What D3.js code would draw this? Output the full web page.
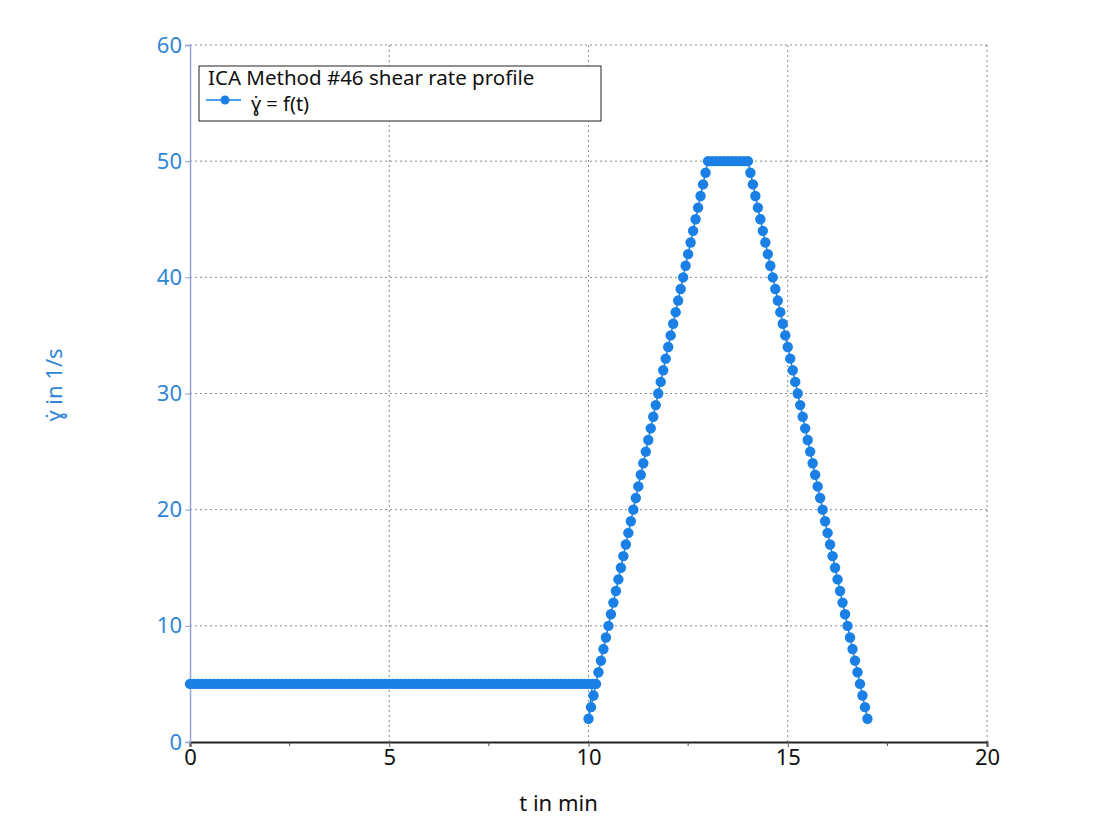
<!DOCTYPE html>
<html>
<head>
<meta charset="utf-8">
<script src="https://cdn.jsdelivr.net/npm/d3@7"></script>
<style>
  body { margin: 0; background: #fff; }
  text { font-family: "Noto Sans", "Open Sans", sans-serif; }
</style>
</head>
<body>
<script>
// hold at 5 1/s for 10 min
var lowT = [0,0.1,0.2,0.3,0.4,0.5,0.6,0.7,0.8,0.9,1,1.1,1.2,1.3,1.4,1.5,1.6,1.7,1.8,1.9,
  2,2.1,2.2,2.3,2.4,2.5,2.6,2.7,2.8,2.9,3,3.1,3.2,3.3,3.4,3.5,3.6,3.7,3.8,3.9,
  4,4.1,4.2,4.3,4.4,4.5,4.6,4.7,4.8,4.9,5,5.1,5.2,5.3,5.4,5.5,5.6,5.7,5.8,5.9,
  6,6.1,6.2,6.3,6.4,6.5,6.6,6.7,6.8,6.9,7,7.1,7.2,7.3,7.4,7.5,7.6,7.7,7.8,7.9,
  8,8.1,8.2,8.3,8.4,8.5,8.6,8.7,8.8,8.9,9,9.1,9.2,9.3,9.4,9.5,9.6,9.7,9.8,9.9,10,10.1]
var lowV = [5,5,5,5,5,5,5,5,5,5,5,5,5,5,5,5,5,5,5,5,
  5,5,5,5,5,5,5,5,5,5,5,5,5,5,5,5,5,5,5,5,
  5,5,5,5,5,5,5,5,5,5,5,5,5,5,5,5,5,5,5,5,
  5,5,5,5,5,5,5,5,5,5,5,5,5,5,5,5,5,5,5,5,
  5,5,5,5,5,5,5,5,5,5,5,5,5,5,5,5,5,5,5,5,5,5]

// ramp up 2 -> 50
var upT = [10,10.0625,10.125,10.1875,10.25,10.3125,10.375,10.4375,10.5,10.5625,10.625,10.6875,
  10.75,10.8125,10.875,10.9375,11,11.0625,11.125,11.1875,11.25,11.3125,11.375,11.4375,
  11.5,11.5625,11.625,11.6875,11.75,11.8125,11.875,11.9375,12,12.0625,12.125,12.1875,
  12.25,12.3125,12.375,12.4375,12.5,12.5625,12.625,12.6875,12.75,12.8125,12.875,12.9375,13]
var upV = [2,3,4,5,6,7,8,9,10,11,12,13,14,15,16,17,18,19,20,21,22,23,24,25,
  26,27,28,29,30,31,32,33,34,35,36,37,38,39,40,41,42,43,44,45,46,47,48,49,50]

// hold at 50
var topT = [13.1,13.2,13.3,13.4,13.5,13.6,13.7,13.8,13.9]
var topV = [50,50,50,50,50,50,50,50,50]

// ramp down 50 -> 2
var downT = [14,14.0625,14.125,14.1875,14.25,14.3125,14.375,14.4375,14.5,14.5625,14.625,14.6875,
  14.75,14.8125,14.875,14.9375,15,15.0625,15.125,15.1875,15.25,15.3125,15.375,15.4375,
  15.5,15.5625,15.625,15.6875,15.75,15.8125,15.875,15.9375,16,16.0625,16.125,16.1875,
  16.25,16.3125,16.375,16.4375,16.5,16.5625,16.625,16.6875,16.75,16.8125,16.875,16.9375,17]
var downV = [50,49,48,47,46,45,44,43,42,41,40,39,38,37,36,35,34,33,32,31,30,29,28,27,
  26,25,24,23,22,21,20,19,18,17,16,15,14,13,12,11,10,9,8,7,6,5,4,3,2]

var xTicks = [0,5,10,15,20]
var yTicks = [0,10,20,30,40,50,60]
var legendTitle = "ICA Method #46 shear rate profile"
var seriesName = "\u0263\u0307 = f(t)"

var pts = []
function addPts(ts, vs){ ts.forEach(function(t,i){ pts.push({t:t, v:vs[i]}) }) }
addPts(lowT, lowV); addPts(upT, upV); addPts(topT, topV); addPts(downT, downV)

var W = 1094, H = 836
var margin = {top: 45, right: 107, bottom: 94, left: 190}
var w = W - margin.left - margin.right
var h = H - margin.top - margin.bottom

var blue = "#1a80e5"
var axisBlue = "#2f86d6"

var svg = d3.select("body").append("svg").attr("width", W).attr("height", H)
var g = svg.append("g").attr("transform", "translate(" + margin.left + "," + margin.top + ")")

var x = d3.scaleLinear().domain([0,20]).range([0,w])
var y = d3.scaleLinear().domain([0,60]).range([h,0])

// grid
g.selectAll(".gx").data(xTicks.slice(1)).enter().append("line")
  .attr("x1", d => x(d)).attr("x2", d => x(d)).attr("y1", 0).attr("y2", h)
  .attr("stroke", "#8a8a8a").attr("stroke-width", 1).attr("stroke-dasharray", "2,3")
g.selectAll(".gy").data(yTicks.slice(1)).enter().append("line")
  .attr("x1", 0).attr("x2", w).attr("y1", d => y(d)).attr("y2", d => y(d))
  .attr("stroke", "#8a8a8a").attr("stroke-width", 1).attr("stroke-dasharray", "2,3")

// x axis
var xAxis = g.append("g").attr("transform", "translate(0," + h + ")")
  .call(d3.axisBottom(x).tickValues(xTicks).tickSize(5).tickPadding(2))
xAxis.select(".domain").attr("stroke", "#222").attr("stroke-width", 2)
xAxis.selectAll(".tick line").attr("stroke", "#666")
xAxis.selectAll("text").attr("font-size", 22).attr("fill", "#111")
  .attr("font-family", "'Noto Sans', sans-serif")
// minor ticks on x
g.selectAll(".mx").data([2.5,7.5,12.5,17.5]).enter().append("line")
  .attr("x1", d => x(d)).attr("x2", d => x(d)).attr("y1", h).attr("y2", h + 4)
  .attr("stroke", "#444")

// y axis
var yAxis = g.append("g")
  .call(d3.axisLeft(y).tickValues(yTicks).tickSize(5).tickPadding(3))
yAxis.select(".domain").attr("stroke", "#8fa3d6").attr("stroke-width", 1.5)
yAxis.selectAll(".tick line").attr("stroke", "#8fa3d6")
yAxis.selectAll("text").attr("font-size", 22).attr("fill", axisBlue)
  .attr("font-family", "'Noto Sans', sans-serif")

// series
var line = d3.line().x(d => x(d.t)).y(d => y(d.v))
g.append("path").datum(pts).attr("d", line)
  .attr("fill", "none").attr("stroke", blue).attr("stroke-width", 1.5)
g.selectAll(".pt").data(pts).enter().append("circle")
  .attr("cx", d => x(d.t)).attr("cy", d => y(d.v)).attr("r", 5.2)
  .attr("fill", blue)

// legend
var lg = svg.append("g").attr("transform", "translate(199,66)")
lg.append("rect").attr("width", 402).attr("height", 55)
  .attr("fill", "#fff").attr("stroke", "#222").attr("stroke-width", 1)
lg.append("text").attr("x", 9).attr("y", 19).attr("font-size", 20.5).attr("fill", "#111")
  .text(legendTitle)
lg.append("line").attr("x1", 7).attr("x2", 42).attr("y1", 34).attr("y2", 34)
  .attr("stroke", blue).attr("stroke-width", 1.5)
lg.append("circle").attr("cx", 26).attr("cy", 34).attr("r", 4.5).attr("fill", blue)
lg.append("text").attr("x", 52).attr("y", 45).attr("font-size", 20).attr("fill", "#111")
  .text(seriesName)

// axis titles
svg.append("text").attr("x", margin.left + w/2 - 30).attr("y", 811)
  .attr("text-anchor", "middle").attr("font-size", 22).attr("fill", "#111")
  .text("t in min")
svg.append("text").attr("transform", "translate(62,385) rotate(-90)")
  .attr("text-anchor", "middle").attr("font-size", 22).attr("fill", axisBlue)
  .text("\u0263\u0307 in 1/s")
</script>
</body>
</html>
